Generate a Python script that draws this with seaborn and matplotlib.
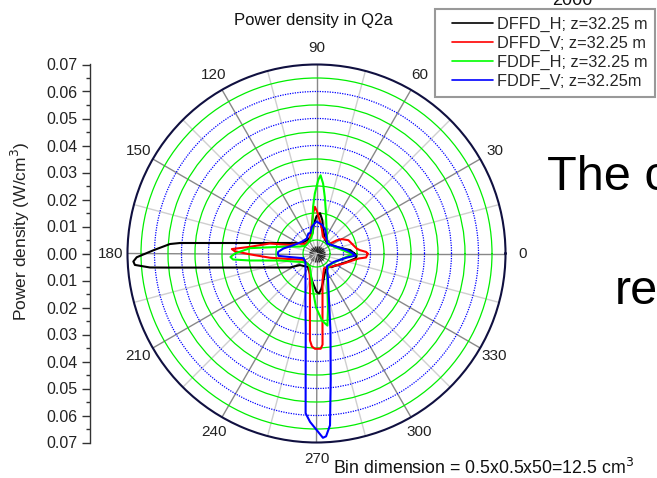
import numpy as np
import pandas as pd
import matplotlib
matplotlib.use("Agg")
import matplotlib.pyplot as plt
from matplotlib.ticker import MultipleLocator, FuncFormatter
from matplotlib.legend_handler import HandlerLine2D
import seaborn as sns

# ---------------- data (angle in degrees, power density in W/cm^3) ----------------
series_names = ["DFFD_H; z=32.25 m", "DFFD_V; z=32.25 m", "FDDF_H; z=32.25 m", "FDDF_V; z=32.25m"]
series_colors = ["#000000", "#ff0000", "#00ff00", "#0000ff"]

theta_dffd_h = [0, 5.6, 13, 31, 45, 60, 74, 80, 85, 90, 95, 100, 110, 125, 140, 147.5, 158.4, 164,
                169.5, 172.2, 173.8, 174.85, 175.6, 176.3, 178.9, 181.2, 182.5, 183.6, 184.8, 185.5,
                186.9, 190.4, 193.9, 201, 207.8, 215, 238, 251.5, 263.5, 270, 273.7, 278, 283, 292.5,
                306.7, 319, 330, 344.6, 352.7, 356.5, 360]
r_dffd_h = [0.014, 0.0126, 0.0091, 0.006, 0.0055, 0.0062, 0.009, 0.0125, 0.015, 0.0138, 0.011, 0.008,
            0.0065, 0.006, 0.0065, 0.0072, 0.0106, 0.0141, 0.0213, 0.0286, 0.036, 0.0433, 0.0507,
            0.0544, 0.0605, 0.0666, 0.0679, 0.0674, 0.0619, 0.0545, 0.0434, 0.0288, 0.0216, 0.0145,
            0.0111, 0.0075, 0.0059, 0.0078, 0.0112, 0.0142, 0.0148, 0.0131, 0.0108, 0.008, 0.0062,
            0.0076, 0.0087, 0.0117, 0.0145, 0.0148, 0.014]

theta_dffd_v = [0, 1.8, 4.3, 7, 22.6, 29.5, 33, 36, 53, 68.3, 79.4, 85.7, 89, 92, 94.9, 100.6, 116.7,
                140, 150, 162.2, 167.9, 174.3, 177, 178.4, 180.7, 185.2, 192, 204.7, 238, 256.5, 262.1,
                264.4, 265.7, 267.2, 269.1, 272.5, 273.8, 275.1, 277.3, 282.5, 296.6, 330, 339.7, 349.7,
                353.2, 355.4, 359, 360]
r_dffd_v = [0.0189, 0.0184, 0.0162, 0.015, 0.0128, 0.0108, 0.009, 0.0063, 0.0062, 0.0066, 0.01, 0.013,
            0.0154, 0.0173, 0.0149, 0.01, 0.0055, 0.0055, 0.0075, 0.0103, 0.0177, 0.0248, 0.0314,
            0.0303, 0.0247, 0.0173, 0.01, 0.0055, 0.0052, 0.0103, 0.0176, 0.0249, 0.0323, 0.0345,
            0.0353, 0.0353, 0.0338, 0.0249, 0.0175, 0.0103, 0.0062, 0.0087, 0.0107, 0.0139, 0.0157,
            0.0184, 0.0189, 0.0189]

theta_fddf_h = [0, 10, 20, 35, 51, 69.4, 77.9, 81.7, 84.6, 87, 88.7, 91.6, 94.2, 96.8, 100.8, 110, 130,
                145, 157, 168.6, 175.4, 180, 182.3, 184.1, 186, 190.9, 212.8, 230, 245, 264.6, 269.5,
                274.7, 278.6, 281.4, 286.6, 301.7, 315, 330, 345, 358, 360]
r_fddf_h = [0.0128, 0.009, 0.007, 0.006, 0.0063, 0.0105, 0.0164, 0.0212, 0.026, 0.029, 0.0272, 0.0222,
            0.0173, 0.0124, 0.0075, 0.006, 0.005, 0.005, 0.0066, 0.0127, 0.0247, 0.0302, 0.0319, 0.031,
            0.0248, 0.0138, 0.0059, 0.005, 0.0057, 0.0138, 0.02, 0.0249, 0.027, 0.0215, 0.0143, 0.0074,
            0.0065, 0.007, 0.009, 0.013, 0.0128]

theta_fddf_v = [0, 6.2, 18, 44, 48.8, 69.5, 79, 90, 99.5, 107, 112, 123, 142, 160.3, 171.4, 177.6, 180,
                183.6, 187.5, 200, 218, 243.1, 256.7, 262, 265.1, 266.1, 267.8, 272, 273, 274.5, 276.4,
                280.3, 285, 293.3, 309.6, 334, 352.5, 357, 360]
r_fddf_v = [0.0135, 0.0114, 0.008, 0.0054, 0.0059, 0.0093, 0.0108, 0.0119, 0.0101, 0.0079, 0.008,
            0.0066, 0.007, 0.0091, 0.0124, 0.0142, 0.0143, 0.0141, 0.01, 0.0051, 0.0052, 0.009, 0.0178,
            0.0287, 0.0471, 0.0593, 0.0624, 0.0683, 0.0678, 0.0638, 0.0472, 0.0289, 0.0179, 0.0108,
            0.0061, 0.0071, 0.0114, 0.0145, 0.0135]

r_max = 0.07
r_grid = [0.005, 0.01, 0.015, 0.02, 0.025, 0.03, 0.035, 0.04, 0.045, 0.05, 0.055, 0.06, 0.065]
theta_grid = list(range(0, 360, 15))

# ---------------- build table ----------------
thetas = [theta_dffd_h, theta_dffd_v, theta_fddf_h, theta_fddf_v]
rs = [r_dffd_h, r_dffd_v, r_fddf_h, r_fddf_v]
frames = []
for name, th, rr in zip(series_names, thetas, rs):
    frames.append(pd.DataFrame({"theta": np.deg2rad(th), "r": rr, "series": name}))
df = pd.concat(frames, ignore_index=True)

sns.set_theme(style="white")
plt.rcParams["font.family"] = ["Liberation Sans", "DejaVu Sans"]

W, H = 657, 478
fig = plt.figure(figsize=(W / 100, H / 100), dpi=100)
fx = lambda px: px / W
fy = lambda py: 1 - py / H

cx, cy, R = 316.5, 253.5, 189
ax = fig.add_axes([fx(cx - R), fy(cy + R), 2 * R / W, 2 * R / H], projection="polar")
ax.set_facecolor("white")

sns.lineplot(data=df, x="theta", y="r", hue="series", hue_order=series_names,
             palette=series_colors, sort=False, estimator=None, units="series",
             linewidth=1.5, ax=ax, legend=False)

ax.set_ylim(0, r_max)
ax.set_yticks(r_grid)
ax.set_yticklabels([])
ax.set_xlabel("")
ax.set_ylabel("")
ax.set_thetagrids(theta_grid, labels=[str(a) if a % 30 == 0 else "" for a in theta_grid],
                  fontsize=11)
ax.grid(True)
ax.set_axisbelow(True)
for i, gl in enumerate(ax.yaxis.get_gridlines()):
    if i % 2 == 0:
        gl.set_color("#00ee00"); gl.set_linestyle("-"); gl.set_linewidth(0.9)
    else:
        gl.set_color("#0000ff"); gl.set_linestyle((0, (1, 1.0))); gl.set_linewidth(0.9)
for a, gl in zip(theta_grid, ax.xaxis.get_gridlines()):
    gl.set_linestyle("-"); gl.set_linewidth(1.0)
    gl.set_color("#888888" if a % 30 == 0 else "#cfcfcf")
ax.tick_params(axis="x", which="major", direction="in", length=6, width=1.0,
               color="#222222", pad=5, colors="#222222", bottom=True, top=False)
ax.tick_params(axis="x", labelcolor="#222222")
ax.spines["polar"].set_color("#101040")
ax.spines["polar"].set_linewidth(1.5)

# ---------------- left linear axis ----------------
lax = fig.add_axes([fx(90), fy(cy + R), 0.001, 2 * R / H])
lax.set_facecolor("none")
for s in ["top", "right", "bottom"]:
    lax.spines[s].set_visible(False)
lax.spines["left"].set_color("#333333")
lax.spines["left"].set_linewidth(1.0)
lax.set_ylim(-r_max, r_max)
lax.set_xticks([])
lax.yaxis.set_major_locator(MultipleLocator(0.01))
lax.yaxis.set_minor_locator(MultipleLocator(0.005))
lax.yaxis.set_major_formatter(FuncFormatter(lambda v, p: f"{abs(v):.2f}"))
lax.tick_params(axis="y", which="major", direction="out", length=6, width=1.0,
                left=True, labelsize=11.5, color="#333333", labelcolor="#222222", pad=3)
lax.tick_params(axis="y", which="minor", direction="out", length=3, width=1.0,
                left=True, color="#333333")

fig.text(fx(20), fy(231), "Power density (W/cm$^3$)", rotation=90, ha="center", va="center",
         fontsize=12.5, color="#222222")

# ---------------- texts ----------------
fig.text(fx(313), fy(20), "Power density in Q2a", ha="center", va="center", fontsize=12,
         color="#111111")
fig.text(fx(552), fy(5), "2000", ha="left", va="baseline", fontsize=13, color="#111111")
fig.text(fx(333), fy(474), "Bin dimension = 0.5x0.5x50=12.5 cm$^3$", ha="left", va="baseline",
         fontsize=12.8, color="#111111")
fig.text(fx(547), fy(190), "The c", ha="left", va="baseline", fontsize=35, color="black")
fig.text(fx(615), fy(304), "re", ha="left", va="baseline", fontsize=35, color="black")

# ---------------- legend ----------------
handles = ax.get_lines()[:4]
leg = fig.legend(handles, series_names, loc="upper left", bbox_to_anchor=(fx(435), fy(9)),
                 fontsize=11.8, frameon=True, fancybox=False, borderpad=0.45, borderaxespad=0,
                 handlelength=3.1, handletextpad=0.25, labelspacing=0.25,
                 handler_map={h: HandlerLine2D(xpad=0.6) for h in handles})
leg.get_frame().set_edgecolor("#808080")
leg.get_frame().set_linewidth(1.5)
for lh in leg.get_lines():
    lh.set_linewidth(1.2)

fig.savefig("out.png", dpi=100)
